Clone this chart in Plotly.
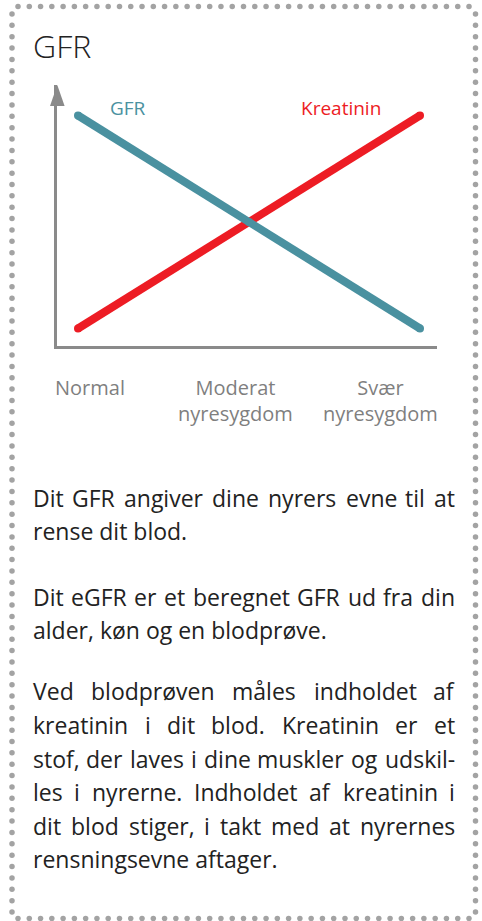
import plotly.graph_objects as go
import numpy as np

# ---------------- data ----------------
title_text = "GFR"
stages = ["Normal", "Moderat nyresygdom", "Svær nyresygdom"]
stage_idx = [0, 1, 2]
gfr_rel = [1.0, 0.5, 0.0]
kreatinin_rel = [0.0, 0.5, 1.0]
series_names = ["GFR", "Kreatinin"]
paragraphs = [
    ["Dit GFR angiver dine nyrers evne til at", "rense dit blod."],
    ["Dit eGFR er et beregnet GFR ud fra din", "alder, køn og en blodprøve."],
    ["Ved blodprøven måles indholdet af",
     "kreatinin i dit blod. Kreatinin er et",
     "stof, der laves i dine muskler og udskil-",
     "les i nyrerne. Indholdet af kreatinin i",
     "dit blod stiger, i takt med at nyrernes",
     "rensningsevne aftager."],
]

# ---------------- style / layout ----------------
W, H = 482, 921
FONT = "Open Sans"
TEAL = "#4a91a0"
RED = "#ed1c24"
AXIS = "#8a8a8a"
TICK = "#7f7f7f"
TXT = "#222222"
DOT = "#a3a3a3"

# plot area (pixels)
PL, PR, PT, PB = 57, 437, 85, 346
# where first/last data points sit (pixels)
X0, X1 = 78, 420
Y0, Y1 = 328.5, 115.5
ux = (X1 - X0) / (stage_idx[-1] - stage_idx[0])
uy = (Y0 - Y1) / 1.0
xr = [stage_idx[0] - (X0 - PL) / ux, stage_idx[-1] + (PR - X1) / ux]
yr = [-(PB - Y0) / uy, 1 + (Y1 - PT) / uy]

fig = go.Figure()

# dotted frame (decoration) on a pixel overlay axis
tx = np.linspace(18, 469, 41)
ly = np.linspace(14, 912, 80)
dx = np.concatenate([tx, np.full_like(ly, 12.0), np.full_like(ly, 475.5), tx])
dy = np.concatenate([np.full_like(tx, 6.5), ly, ly, np.full_like(tx, 918.5)])
fig.add_trace(go.Scatter(x=dx, y=dy, mode="markers", xaxis="x2", yaxis="y2",
                         marker=dict(size=5.5, color=DOT), hoverinfo="skip",
                         showlegend=False, cliponaxis=False))

# series lines (red under teal)
fig.add_trace(go.Scatter(x=stage_idx, y=kreatinin_rel, mode="lines+markers",
                         name=series_names[1],
                         line=dict(color=RED, width=8),
                         marker=dict(size=8, color=RED), showlegend=False))
fig.add_trace(go.Scatter(x=stage_idx, y=gfr_rel, mode="lines+markers",
                         name=series_names[0],
                         line=dict(color=TEAL, width=8),
                         marker=dict(size=8, color=TEAL), showlegend=False))

ann = []
# title
ann.append(dict(text=title_text, x=31, y=45, xref="x2", yref="y2",
                xanchor="left", yanchor="middle", showarrow=False,
                font=dict(family=FONT, size=32, color=TXT, weight=300)))
# series labels
ann.append(dict(text=series_names[0], x=108, y=108, xref="x2", yref="y2",
                xanchor="left", yanchor="middle", showarrow=False,
                font=dict(family=FONT, size=19, color=TEAL)))
ann.append(dict(text=series_names[1], x=299, y=108, xref="x2", yref="y2",
                xanchor="left", yanchor="middle", showarrow=False,
                font=dict(family=FONT, size=19, color=RED)))

# stage labels under the x axis
label_cx = [90, 235, 380]
for cx, s in zip(label_cx, stages):
    parts = s.split(" ")
    ann.append(dict(text="<br>".join(parts), x=cx, y=372, xref="x2", yref="y2",
                    xanchor="center", yanchor="top", showarrow=False,
                    font=dict(family=FONT, size=20, color=TICK)))

# body text, justified
wt = {' ': .260, 'a': .556, 'b': .613, 'c': .476, 'd': .613, 'e': .561, 'f': .339,
      'g': .548, 'h': .614, 'i': .253, 'j': .253, 'k': .525, 'l': .253, 'm': .930,
      'n': .614, 'o': .604, 'p': .613, 'q': .613, 'r': .408, 's': .477, 't': .353,
      'u': .614, 'v': .501, 'w': .778, 'x': .524, 'y': .502, 'z': .468, 'æ': .881,
      'ø': .604, 'å': .556, ',': .245, '.': .266, '-': .322, 'D': .711, 'G': .708,
      'F': .536, 'R': .624, 'K': .617, 'I': .319, 'V': .586, 'E': .549}
BFS = 23
CAL = 1.0
PAD = 2  # annotation inner padding (borderpad + border)
TL, TR = 33, 455
line_y = [[498, 531], [597, 630], [691, 725, 759, 792, 826, 859]]


def wlen(w):
    return sum(wt.get(c, .55) for c in w) * BFS * CAL


def word_ann(w, x, y, anchor):
    return dict(text=w, x=x, y=y, xref="x2", yref="y2", xanchor=anchor,
                yanchor="middle", showarrow=False, font=bfont)


bfont = dict(family=FONT, size=BFS, color=TXT)
for para, ys in zip(paragraphs, line_y):
    for li, (line, y) in enumerate(zip(para, ys)):
        if li == len(para) - 1:
            ann.append(word_ann(line, TL - PAD, y, "left"))
            continue
        words = line.split(" ")
        widths = [wlen(w) for w in words]
        n = len(words)
        gap = (TR - TL - sum(widths)) / (n - 1)
        half = (n + 1) // 2
        # left half: anchored from left edge
        xpos = TL
        for w, wl in zip(words[:half], widths[:half]):
            ann.append(word_ann(w, xpos - PAD, y, "left"))
            xpos += wl + gap
        # right half: anchored from right edge
        xpos = TR
        for w, wl in zip(reversed(words[half:]), reversed(widths[half:])):
            ann.append(word_ann(w, xpos + PAD, y, "right"))
            xpos -= wl + gap

# y-axis arrow head
shapes = [dict(type="path", xref="x2", yref="y2",
               path="M 50 106 L 57.3 85 L 64.6 106 Z",
               fillcolor=AXIS, line=dict(width=0))]

fig.update_layout(
    width=W, height=H, margin=dict(l=0, r=0, t=0, b=0),
    paper_bgcolor="white", plot_bgcolor="rgba(0,0,0,0)",
    showlegend=False, hovermode=False,
    annotations=ann, shapes=shapes,
    xaxis=dict(domain=[PL / W, PR / W], range=xr, showline=True,
               linecolor=AXIS, linewidth=2.5, showgrid=False, zeroline=False,
               showticklabels=False, ticks="", fixedrange=True),
    yaxis=dict(domain=[1 - PB / H, 1 - PT / H], range=yr, showline=True,
               linecolor=AXIS, linewidth=2.5, showgrid=False, zeroline=False,
               showticklabels=False, ticks="", fixedrange=True),
    xaxis2=dict(domain=[0, 1], range=[0, W], visible=False, anchor="y2",
                fixedrange=True),
    yaxis2=dict(domain=[0, 1], range=[H, 0], visible=False, anchor="x2",
                fixedrange=True),
)

fig.write_html("out.html", config={"displayModeBar": False},
               post_script="document.body.style.margin='0';"
                           "document.body.style.overflow='hidden';")
